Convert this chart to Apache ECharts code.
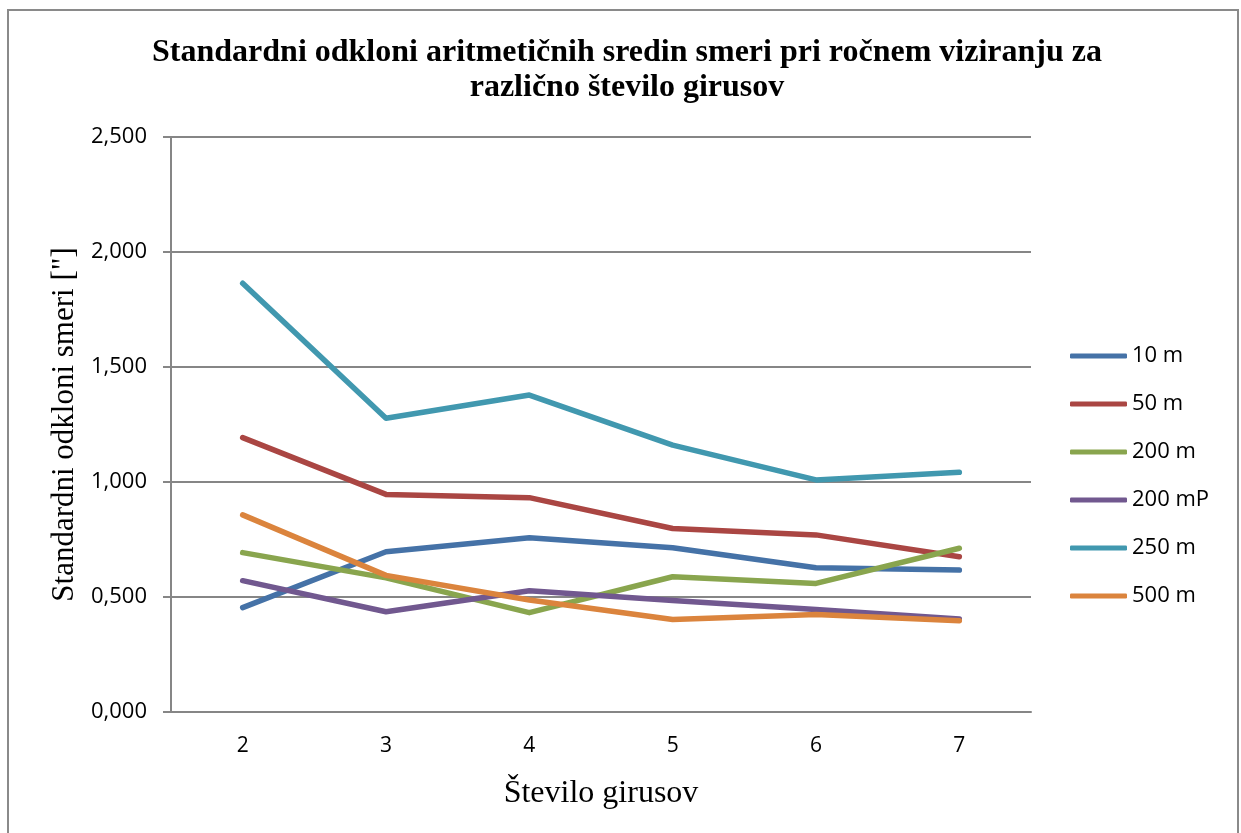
<!DOCTYPE html>
<html>
<head>
<meta charset="utf-8">
<script src="https://cdn.jsdelivr.net/npm/echarts@6/dist/echarts.min.js"></script>
<style>
html,body{margin:0;padding:0;background:#fff;}
#chart{width:1241px;height:833px;}
</style>
</head>
<body>
<div id="chart"></div>
<script>
const categories = ['2', '3', '4', '5', '6', '7'];
const seriesNames = ['10 m', '50 m', '200 m', '200 mP', '250 m', '500 m'];
const s10m   = [0.454, 0.697, 0.758, 0.714, 0.627, 0.617];
const s50m   = [1.193, 0.946, 0.932, 0.798, 0.770, 0.675];
const s200m  = [0.693, 0.583, 0.432, 0.588, 0.559, 0.712];
const s200mP = [0.571, 0.436, 0.527, 0.485, 0.446, 0.404];
const s250m  = [1.864, 1.277, 1.378, 1.160, 1.009, 1.042];
const s500m  = [0.857, 0.594, 0.487, 0.402, 0.424, 0.397];
const seriesData = [s10m, s50m, s200m, s200mP, s250m, s500m];
const colors = ['#4572A7', '#AA4643', '#89A54E', '#71588F', '#4198AF', '#DB843D'];

const chart = echarts.init(document.getElementById('chart'));
chart.setOption({
  animation: false,
  color: colors,
  title: {
    text: 'Standardni odkloni aritmetičnih sredin smeri pri ročnem viziranju za\nrazlično število girusov',
    left: 622,
    textAlign: 'center',
    top: 30,
    textStyle: {
      fontFamily: 'Liberation Serif',
      fontWeight: 'bold',
      fontSize: 32,
      lineHeight: 35,
      color: '#000'
    }
  },
  graphic: [{
    type: 'rect',
    shape: {x: 8, y: 10, width: 1230, height: 850},
    style: {fill: 'none', stroke: '#8a8a8a', lineWidth: 2},
    silent: true
  }],
  legend: {
    orient: 'vertical',
    left: 1065,
    top: 340,
    itemWidth: 57,
    itemHeight: 5,
    itemGap: 26,
    icon: 'roundRect',
    textStyle: {fontFamily: 'Open Sans', fontSize: 22, color: '#000', lineHeight: 22},
    data: seriesNames
  },
  grid: {left: 171, right: 210, top: 137, bottom: 121, containLabel: false},
  xAxis: {
    type: 'category',
    data: categories,
    boundaryGap: true,
    name: 'Število girusov',
    nameLocation: 'middle',
    nameGap: 66,
    nameTextStyle: {fontFamily: 'Liberation Serif', fontSize: 32, color: '#000'},
    axisLine: {lineStyle: {color: '#868686', width: 2}},
    axisTick: {show: false},
    axisLabel: {fontFamily: 'Open Sans', fontSize: 21, color: '#000', margin: 24}
  },
  yAxis: {
    type: 'value',
    min: 0, max: 2.5, interval: 0.5,
    name: 'Standardni odkloni smeri ["]',
    nameLocation: 'middle',
    nameGap: 91,
    nameRotate: 90,
    nameTextStyle: {fontFamily: 'Liberation Serif', fontSize: 31, color: '#000'},
    axisLine: {show: true, lineStyle: {color: '#868686', width: 2}},
    axisTick: {show: true, length: 8, lineStyle: {color: '#868686', width: 2}},
    splitLine: {lineStyle: {color: '#868686', width: 2}},
    axisLabel: {
      fontFamily: 'Open Sans', fontSize: 22, color: '#000', margin: 24,
      formatter: v => v.toFixed(3).replace('.', ',')
    }
  },
  series: seriesNames.map((n, i) => ({
    name: n,
    type: 'line',
    data: seriesData[i],
    symbol: 'none',
    lineStyle: {width: 5.5, cap: 'round', join: 'round'}
  }))
});
</script>
</body>
</html>
